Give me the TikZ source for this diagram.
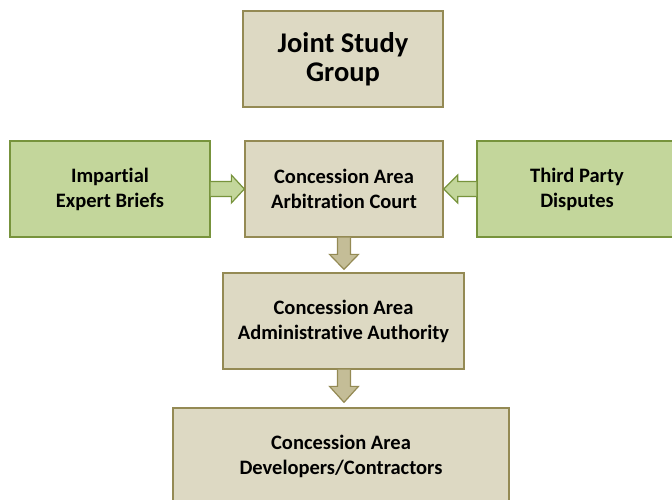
\documentclass[tikz,border=0pt]{standalone}
\usepackage{fontspec}
\setmainfont{Carlito}[Ligatures=NoCommon]
\usetikzlibrary{calc}
\definecolor{tanfill}{HTML}{DDD9C3}
\definecolor{tanline}{HTML}{948A54}
\definecolor{tanarrow}{HTML}{C4BD97}
\definecolor{grfill}{HTML}{C3D69B}
\definecolor{grline}{HTML}{77933C}
\tikzset{
  tanbox/.style={draw=tanline, fill=tanfill, line width=1.3pt, align=center, font=\bfseries\fontsize{20.5}{25}\selectfont, inner sep=0pt},
  grbox/.style={draw=grline, fill=grfill, line width=1.3pt, align=center, font=\bfseries\fontsize{20.5}{25}\selectfont, inner sep=0pt},
  tanarr/.style={draw=tanline, fill=tanarrow, line width=1.2pt, line join=miter},
  grarr/.style={draw=grline, fill=grfill, line width=1.2pt, line join=miter},
}
\begin{document}
\begin{tikzpicture}[x=1pt,y=-1pt]
\useasboundingbox (0,0) rectangle (672,500);
\clip (0,0) rectangle (672,500);
\node[tanbox, minimum width=200pt, minimum height=96pt, font=\bfseries\fontsize{28.5}{29}\selectfont] (jsg) at (343,59) {Joint Study\\Group};
\node[grbox, minimum width=200pt, minimum height=96pt] (imp) at (110,189) {Impartial\\Expert Briefs};
\node[tanbox, minimum width=198pt, minimum height=96pt] (court) at (344,189) {Concession Area\\Arbitration Court};
\node[grbox, minimum width=200pt, minimum height=96pt] (tpd) at (577,189) {Third Party\\Disputes};
\node[tanbox, minimum width=241pt, minimum height=96pt] (admin) at (343.5,321) {Concession Area\\Administrative Authority};
\node[tanbox, minimum width=336pt, minimum height=110pt] (dev) at (341,463) {};
\node[font=\bfseries\fontsize{20.5}{25}\selectfont, align=center] (devtxt) at (341,456) {Concession Area\\Developers/Contractors};
\coordinate (d1top) at (court.south);
\coordinate (d1tip) at ($(court.south |- admin.north)+(0,-3)$);
\coordinate (d2top) at (court.south |- admin.south);
\coordinate (d2tip) at ($(court.south |- dev.north)+(0,-5)$);
% side arrows
\draw[grarr] ($(imp.east)+(0,-7.5)$) -- ($(court.west)+(-13,-7.5)$) -- ($(court.west)+(-13,-14)$) -- (court.west) -- ($(court.west)+(-13,14)$) -- ($(court.west)+(-13,7.5)$) -- ($(imp.east)+(0,7.5)$);
\draw[grarr] ($(tpd.west)+(0,-7.5)$) -- ($(court.east)+(14,-7.5)$) -- ($(court.east)+(14,-14)$) -- (court.east) -- ($(court.east)+(14,14)$) -- ($(court.east)+(14,7.5)$) -- ($(tpd.west)+(0,7.5)$);
% down arrows
\draw[tanarr] ($(d1top)+(-6.5,0)$) -- ($(d1tip)+(-6.5,-15)$) -- ($(d1tip)+(-14.5,-15)$) -- (d1tip) -- ($(d1tip)+(14.5,-15)$) -- ($(d1tip)+(6.5,-15)$) -- ($(d1top)+(6.5,0)$);
\draw[tanarr] ($(d2top)+(-6.5,0)$) -- ($(d2tip)+(-6.5,-16)$) -- ($(d2tip)+(-14.5,-16)$) -- (d2tip) -- ($(d2tip)+(14.5,-16)$) -- ($(d2tip)+(6.5,-16)$) -- ($(d2top)+(6.5,0)$);
\end{tikzpicture}
\end{document}
